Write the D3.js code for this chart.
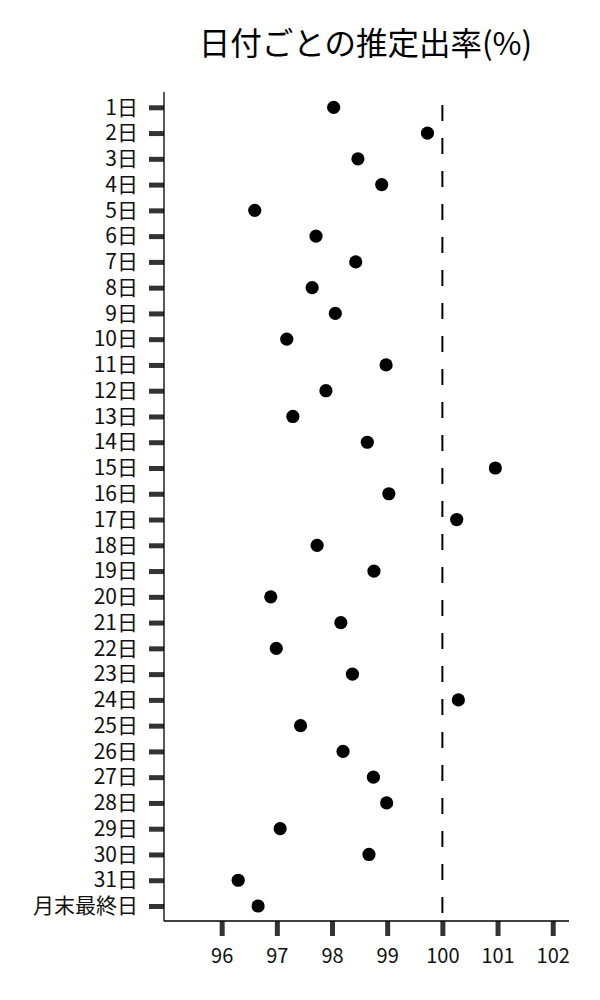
<!DOCTYPE html>
<html>
<head>
<meta charset="utf-8">
<script src="https://cdn.jsdelivr.net/npm/d3@7"></script>
<style>
  html, body { margin: 0; padding: 0; background: #fff; }
  svg { display: block; }
  text { font-family: "Noto Sans CJK JP", "Noto Sans", sans-serif; }
</style>
</head>
<body>
<div id="chart"></div>
<script>
const categories = ["1日","2日","3日","4日","5日","6日","7日","8日","9日","10日",
  "11日","12日","13日","14日","15日","16日","17日","18日","19日","20日",
  "21日","22日","23日","24日","25日","26日","27日","28日","29日","30日",
  "31日","月末最終日"];
const rates = [98.03, 99.73, 98.47, 98.90, 96.60, 97.71, 98.43, 97.64, 98.06, 97.18,
  98.98, 97.89, 97.29, 98.64, 100.96, 99.03, 100.26, 97.73, 98.76, 96.89,
  98.16, 96.99, 98.37, 100.29, 97.43, 98.20, 98.75, 98.99, 97.06, 98.67,
  96.30, 96.66];
const xTicks = [96, 97, 98, 99, 100, 101, 102];
const xDomain = [94.955, 102.295];
const referenceValue = 100;
const titleText = "日付ごとの推定出率(%)";

const W = 600, H = 1000;
const margin = { top: 92, left: 164, right: 31, bottom: 79 };
const iw = W - margin.left - margin.right;
const ih = H - margin.top - margin.bottom;

const svg = d3.select("#chart").append("svg")
  .attr("width", W).attr("height", H);

const g = svg.append("g").attr("transform", `translate(${margin.left},${margin.top})`);

const x = d3.scaleLinear().domain(xDomain).range([0, iw]);
const y = d3.scalePoint().domain(categories).range([15.3, ih - 15]);

// title
svg.append("text")
  .attr("x", margin.left + iw / 2 - 1)
  .attr("y", 55)
  .attr("text-anchor", "middle")
  .attr("font-size", 31.5)
  .attr("fill", "#000")
  .text(titleText);

// reference dashed line
g.append("line")
  .attr("x1", x(referenceValue)).attr("x2", x(referenceValue))
  .attr("y1", 13).attr("y2", ih)
  .attr("stroke", "#000")
  .attr("stroke-width", 2)
  .attr("stroke-dasharray", "16,17");

// points
g.selectAll("circle.pt")
  .data(categories.map((c, i) => ({ c, v: rates[i] })))
  .enter().append("circle")
  .attr("class", "pt")
  .attr("cx", d => x(d.v))
  .attr("cy", d => y(d.c))
  .attr("r", 6.6)
  .attr("fill", "#000");

// y axis
const yAxis = g.append("g")
  .call(d3.axisLeft(y).tickSize(15).tickPadding(11).tickSizeOuter(0));
yAxis.select(".domain").remove();
yAxis.selectAll(".tick line").attr("stroke", "#333").attr("stroke-width", 5);
yAxis.selectAll(".tick text").attr("font-size", 21).attr("fill", "#111")
  .style("font-family", '"Noto Sans CJK JP", sans-serif');

// x axis
const xAxis = g.append("g")
  .attr("transform", `translate(0,${ih})`)
  .call(d3.axisBottom(x).tickValues(xTicks).tickFormat(d3.format("d")).tickSize(15).tickPadding(13).tickSizeOuter(0));
xAxis.select(".domain").remove();
xAxis.selectAll(".tick line").attr("stroke", "#333").attr("stroke-width", 5);
xAxis.selectAll(".tick text").attr("font-size", 20).attr("fill", "#111")
  .style("font-family", '"Noto Sans CJK JP", sans-serif');

// spines
g.append("line").attr("x1", 0).attr("x2", 0).attr("y1", 0).attr("y2", ih)
  .attr("stroke", "#000").attr("stroke-width", 1.3);
g.append("line").attr("x1", 0).attr("x2", iw).attr("y1", ih).attr("y2", ih)
  .attr("stroke", "#000").attr("stroke-width", 1.3);
</script>
</body>
</html>
